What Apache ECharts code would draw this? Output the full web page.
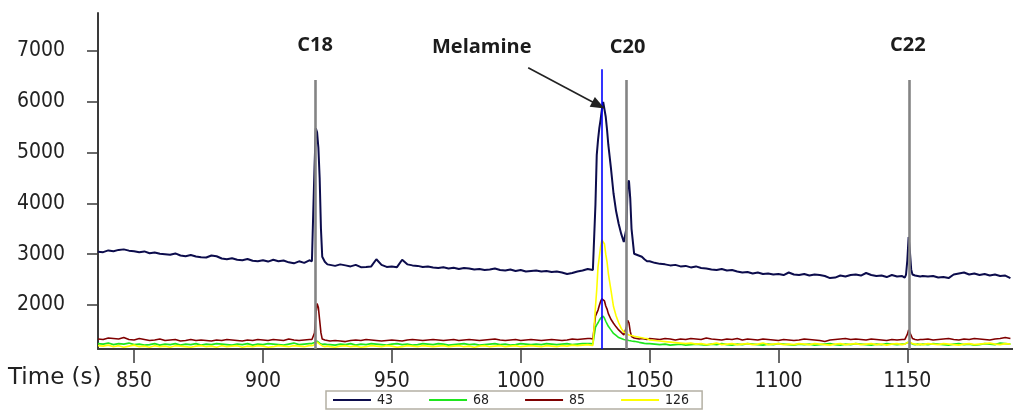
<!DOCTYPE html>
<html>
<head>
<meta charset="utf-8">
<script src="https://cdn.jsdelivr.net/npm/echarts@6/dist/echarts.min.js"></script>
<style>
html,body{margin:0;padding:0;background:#fff;}
#chart{width:1013px;height:410px;}
</style>
</head>
<body>
<div id="chart"></div>
<script>
// ---- DATA ----
const times = [
  // A
  836,838,840,842,844,846,848,850,852,854,856,858,860,862,864,866,868,870,872,874,876,878,880,882,884,886,888,890,892,894,896,898,900,902,904,906,908,910,912,914,916,918,
  // C18
  919,919.5,920,920.5,921,921.5,922,922.5,923,924,925,
  // B
  926,928,930,932,934,936,938,940,942,944,946,948,950,952,954,956,958,960,962,964,966,968,970,972,974,976,978,980,982,984,986,988,990,992,994,996,998,1000,1002,1004,1006,1008,1010,1012,1014,1016,1018,1020,1022,1024,1026,
  // Melamine + C20
  1027,1028,1028.5,1029,1029.5,1030,1030.5,1031,1031.5,1032,1032.5,1033,1033.5,1034,1035,1036,1037,1038,1039,1040,1040.5,1041,1041.5,1042,1042.5,1043,1044,1045,1046,1047,1048,1049,
  // C
  1050,1052,1054,1056,1058,1060,1062,1064,1066,1068,1070,1072,1074,1076,1078,1080,1082,1084,1086,1088,1090,1092,1094,1096,1098,1100,1102,1104,1106,1108,1110,1112,1114,1116,1118,1120,1122,1124,1126,1128,1130,1132,1134,1136,1138,1140,1142,1144,1146,1148,
  // C22
  1149,1149.5,1150,1150.5,1151,1151.5,1152,1153,1154,1155,
  // D
  1156,1158,1160,1162,1164,1166,1168,1170,1172,1174,1176,1178,1180,1182,1184,1186,1188,1190
];

const s43 = [
  3050,3040,3075,3060,3085,3095,3070,3060,3040,3055, 3020,3035,3010,3000,2990,3015,2975,2960,2985,2955, 2940,2935,2975,2960,2915,2900,2920,2890,2880,2905, 2870,2860,2880,2855,2890,2860,2875,2840,2820,2860, 2830,2880,
  2860,3800,4700,5480,5400,5100,4500,3500,2950,2850,2800,
  2790,2770,2800,2780,2760,2790,2745,2750,2760,2900, 2790,2750,2760,2745,2890,2800,2780,2770,2750,2760, 2740,2730,2745,2720,2735,2710,2730,2720,2700,2710, 2690,2700,2720,2690,2680,2700,2670,2690,2660,2670, 2680,2660,2670,2650,2660,2640,2610,2630,2660,2680, 2710,
  2700,2690,2720,3980,4950,5250,5480,5650,5850,6000, 5980,5700,5450,5150,4700,4200,3850,3600,3400,3240, 3210,3500,4400,4450,4100,3500,3010,2990,2970,2950, 2900,2860,
  2860,2830,2810,2800,2780,2790,2760,2770,2740,2760, 2730,2720,2700,2690,2710,2680,2690,2660,2640,2650, 2620,2640,2610,2620,2600,2610,2590,2640,2600,2590, 2610,2580,2600,2590,2570,2530,2540,2580,2560,2590, 2600,2580,2630,2590,2570,2580,2550,2590,2560,2570,
  2540,2600,2880,3340,3050,2700,2600,2580,2570,2560,
  2570,2560,2570,2540,2550,2530,2600,2620,2640,2600, 2620,2590,2610,2580,2600,2570,2580,2530
];

const s68 = [
  1240,1230,1250,1220,1240,1230,1250,1220,1230,1210, 1220,1240,1210,1230,1220,1240,1210,1230,1220,1240, 1210,1230,1220,1240,1230,1220,1210,1230,1220,1240, 1210,1230,1220,1240,1230,1220,1210,1230,1250,1220, 1230,1240,
  1240,1240,1260,1280,1290,1270,1250,1235,1225,1230,1220,
  1220,1210,1230,1220,1240,1210,1230,1220,1240,1230, 1220,1210,1230,1240,1220,1230,1210,1220,1240,1230, 1220,1240,1230,1210,1220,1230,1240,1220,1230,1210, 1220,1230,1240,1220,1230,1210,1220,1240,1230,1220, 1230,1220,1240,1230,1220,1230,1240,1220,1230,1240, 1240,
  1240,1235,1250,1560,1610,1650,1700,1740,1770,1780, 1740,1680,1630,1580,1510,1440,1400,1360,1340,1320, 1315,1311,1305,1300,1295,1290,1285,1278,1265,1255, 1245,1240,
  1240,1230,1220,1230,1210,1220,1230,1210,1220,1230, 1220,1210,1230,1220,1240,1220,1210,1230,1220,1240, 1230,1220,1210,1230,1220,1240,1230,1220,1210,1230, 1220,1230,1210,1220,1230,1240,1220,1210,1230,1220, 1240,1230,1220,1210,1230,1220,1240,1230,1220,1230,
  1230,1240,1260,1270,1260,1240,1230,1220,1230,1220,
  1230,1220,1240,1230,1220,1210,1230,1240,1220,1230, 1210,1220,1240,1230,1220,1250,1240,1230
];

const s85 = [
  1330,1320,1350,1340,1330,1360,1320,1310,1340,1320, 1300,1310,1330,1300,1310,1320,1290,1300,1320,1300, 1310,1300,1290,1310,1300,1320,1310,1300,1290,1310, 1300,1320,1310,1300,1320,1310,1300,1330,1310,1300, 1310,1320,
  1320,1330,1450,1800,2030,1950,1700,1450,1330,1310,1300,
  1290,1300,1290,1280,1300,1310,1300,1320,1310,1300, 1290,1300,1310,1300,1290,1310,1320,1310,1300,1310, 1320,1310,1300,1310,1320,1300,1310,1320,1310,1300, 1310,1320,1330,1310,1300,1310,1320,1300,1310,1320, 1310,1300,1310,1320,1310,1300,1310,1330,1320,1330, 1340,
  1340,1330,1350,1780,1840,1900,1990,2070,2120,2130, 2080,1980,1920,1830,1720,1640,1570,1510,1460,1410, 1420,1560,1700,1650,1480,1380,1350,1340,1330,1340, 1330,1320,
  1340,1330,1320,1340,1330,1310,1330,1320,1340,1330, 1320,1350,1330,1320,1310,1330,1320,1340,1310,1330, 1320,1310,1330,1320,1310,1300,1320,1310,1300,1310, 1330,1320,1310,1300,1280,1310,1320,1330,1340,1320, 1330,1320,1310,1330,1320,1310,1300,1320,1310,1320,
  1320,1330,1420,1510,1480,1400,1340,1320,1310,1320,
  1320,1330,1310,1320,1330,1340,1320,1310,1330,1320, 1340,1330,1320,1310,1330,1340,1360,1340
];

const s126 = [
  1200,1190,1210,1180,1200,1170,1190,1210,1180,1190, 1170,1200,1180,1190,1170,1200,1190,1180,1170,1190, 1200,1180,1190,1170,1200,1180,1190,1200,1170,1190, 1180,1200,1190,1170,1180,1200,1190,1180,1200,1190, 1180,1200,
  1200,1200,1220,1250,1270,1260,1230,1210,1195,1180,1190,
  1180,1170,1190,1200,1180,1190,1170,1180,1200,1190, 1180,1200,1190,1170,1180,1200,1190,1180,1200,1190, 1180,1190,1200,1180,1190,1200,1180,1190,1170,1190, 1200,1180,1190,1200,1180,1190,1200,1180,1190,1200, 1190,1180,1200,1190,1180,1200,1190,1210,1200,1210, 1220,
  1210,1205,1230,1960,2300,2750,2950,3150,3280,3315, 3200,3000,2850,2620,2300,1970,1790,1650,1540,1470, 1450,1435,1420,1410,1405,1400,1385,1375,1365,1355, 1345,1340,
  1310,1300,1290,1280,1270,1260,1250,1240,1250,1230, 1240,1220,1230,1250,1220,1230,1240,1220,1230,1240, 1220,1230,1250,1220,1230,1240,1220,1230,1220,1240, 1230,1220,1240,1230,1220,1210,1230,1240,1220,1230, 1240,1220,1230,1240,1220,1230,1210,1230,1240,1220,
  1230,1240,1260,1280,1270,1250,1240,1230,1220,1230,
  1220,1240,1230,1220,1240,1230,1220,1210,1230,1240, 1220,1230,1240,1250,1230,1220,1240,1230
];

const seriesNames = ['43', '68', '85', '126'];
const seriesColors = ['#0c0c4c', '#1ee61e', '#7f0000', '#ffff00'];
const seriesWidths = [2, 1.6, 1.6, 1.6];

const xTickValues = [850, 900, 950, 1000, 1050, 1100, 1150];
const yTickValues = [2000, 3000, 4000, 5000, 6000, 7000];

// peak markers (retention times) and labels
const peakNames = ['C18', 'C20', 'C22'];
const peakTimes = [920.2, 1041.1, 1150.7];
const peakTop = 6430;
const melamineTime = 1031.6;
const melamineTop = 6640;
const labelTimes = [920.2, 1041.5, 1150.2];
const labelValues = [7118, 7079, 7112];
const melLabel = {name: 'Melamine', t: 984.9, v: 7079};
const arrowFrom = [1002.9, 6671];
const arrowTo = [1028.8, 5970];

const xMin = 836, xMax = 1191, yMin = 1134, yMax = 7748;

// ---- CHART ----
const chart = echarts.init(document.getElementById('chart'), null, {renderer: 'canvas'});
const values = [s43, s68, s85, s126];

const traceSeries = seriesNames.map((n, k) => ({
  name: n,
  type: 'line',
  data: times.map((t, i) => [t, values[k][i]]),
  showSymbol: false,
  symbol: 'none',
  lineStyle: {color: seriesColors[k], width: seriesWidths[k]},
  itemStyle: {color: seriesColors[k]},
  z: 3,
  animation: false
}));

const labelFont = {fontFamily: "'Open Sans', 'DejaVu Sans', sans-serif", fontWeight: 'bold', fontSize: 20, color: '#1c1c1c'};
const tickFont = "'DejaVu Sans Condensed', 'DejaVu Sans', sans-serif";

const markerSeries = {
  name: 'markers',
  type: 'line',
  data: [],
  z: 2,
  markLine: {
    silent: true,
    symbol: ['none', 'none'],
    animation: false,
    label: {show: false},
    lineStyle: {color: '#848484', width: 2.6, type: 'solid'},
    data: peakTimes.map(t => [{coord: [t, yMin]}, {coord: [t, peakTop]}])
  },
  markPoint: {
    silent: true,
    animation: false,
    symbol: 'circle',
    symbolSize: 1,
    itemStyle: {color: 'rgba(0,0,0,0)'},
    label: Object.assign({show: true, position: 'inside', formatter: p => p.name}, labelFont),
    data: peakNames.map((n, i) => ({name: n, coord: [labelTimes[i], labelValues[i]]}))
      .concat([{name: melLabel.name, coord: [melLabel.t, melLabel.v]}])
  }
};

const melSeries = {
  name: 'melamine',
  type: 'line',
  data: [],
  z: 5,
  markLine: {
    silent: true,
    animation: false,
    label: {show: false},
    lineStyle: {type: 'solid'},
    data: [
      [{coord: [melamineTime, yMin], symbol: 'none', lineStyle: {color: '#0000ff', width: 1.6, type: 'solid'}},
       {coord: [melamineTime, melamineTop], symbol: 'none'}],
      [{coord: arrowFrom, symbol: 'none', lineStyle: {color: '#222', width: 1.6, type: 'solid'}},
       {coord: arrowTo, symbol: 'triangle', symbolSize: [11, 14], symbolOffset: [0, -4], itemStyle: {color: '#111'}}]
    ]
  }
};

const option = {
  backgroundColor: '#ffffff',
  animation: false,
  grid: {left: 98, right: 0, top: 13, bottom: 61, containLabel: false, outerBoundsMode: 'none'},
  legend: {
    data: seriesNames,
    left: 326,
    top: 391,
    padding: [2, 13, 2, 7],
    itemGap: 36,
    itemWidth: 38,
    itemHeight: 2,
    icon: 'rect',
    borderColor: '#b4b0a4',
    borderWidth: 1.5,
    borderRadius: 0,
    backgroundColor: '#ffffff',
    textStyle: {fontFamily: tickFont, fontSize: 14, color: '#222', padding: [0, 0, 0, 1]},
    selectedMode: false
  },
  xAxis: {
    type: 'value',
    min: xMin,
    max: xMax,
    axisLine: {show: true, onZero: false, lineStyle: {color: '#3a3a3a', width: 2}},
    axisTick: {show: true, length: 14, customValues: xTickValues, lineStyle: {color: '#3a3a3a', width: 1.5}},
    axisLabel: {show: true, customValues: xTickValues, formatter: v => String(v), margin: 22, fontFamily: tickFont, fontSize: 21, color: '#222'},
    splitLine: {show: false}
  },
  yAxis: {
    type: 'value',
    min: yMin,
    max: yMax,
    axisLine: {show: true, lineStyle: {color: '#3a3a3a', width: 2}},
    axisTick: {show: true, length: 11, customValues: yTickValues, lineStyle: {color: '#3a3a3a', width: 1.5}},
    axisLabel: {show: true, customValues: yTickValues, formatter: v => String(v), margin: 33, fontFamily: tickFont, fontSize: 21, color: '#222'},
    splitLine: {show: false}
  },
  graphic: [{
    type: 'text',
    left: 8,
    top: 367,
    style: {text: 'Time (s)', fontFamily: "'DejaVu Sans', sans-serif", fontSize: 23, fill: '#222'}
  }],
  series: [markerSeries].concat(traceSeries).concat([melSeries])
};
chart.setOption(option);
</script>
</body>
</html>
